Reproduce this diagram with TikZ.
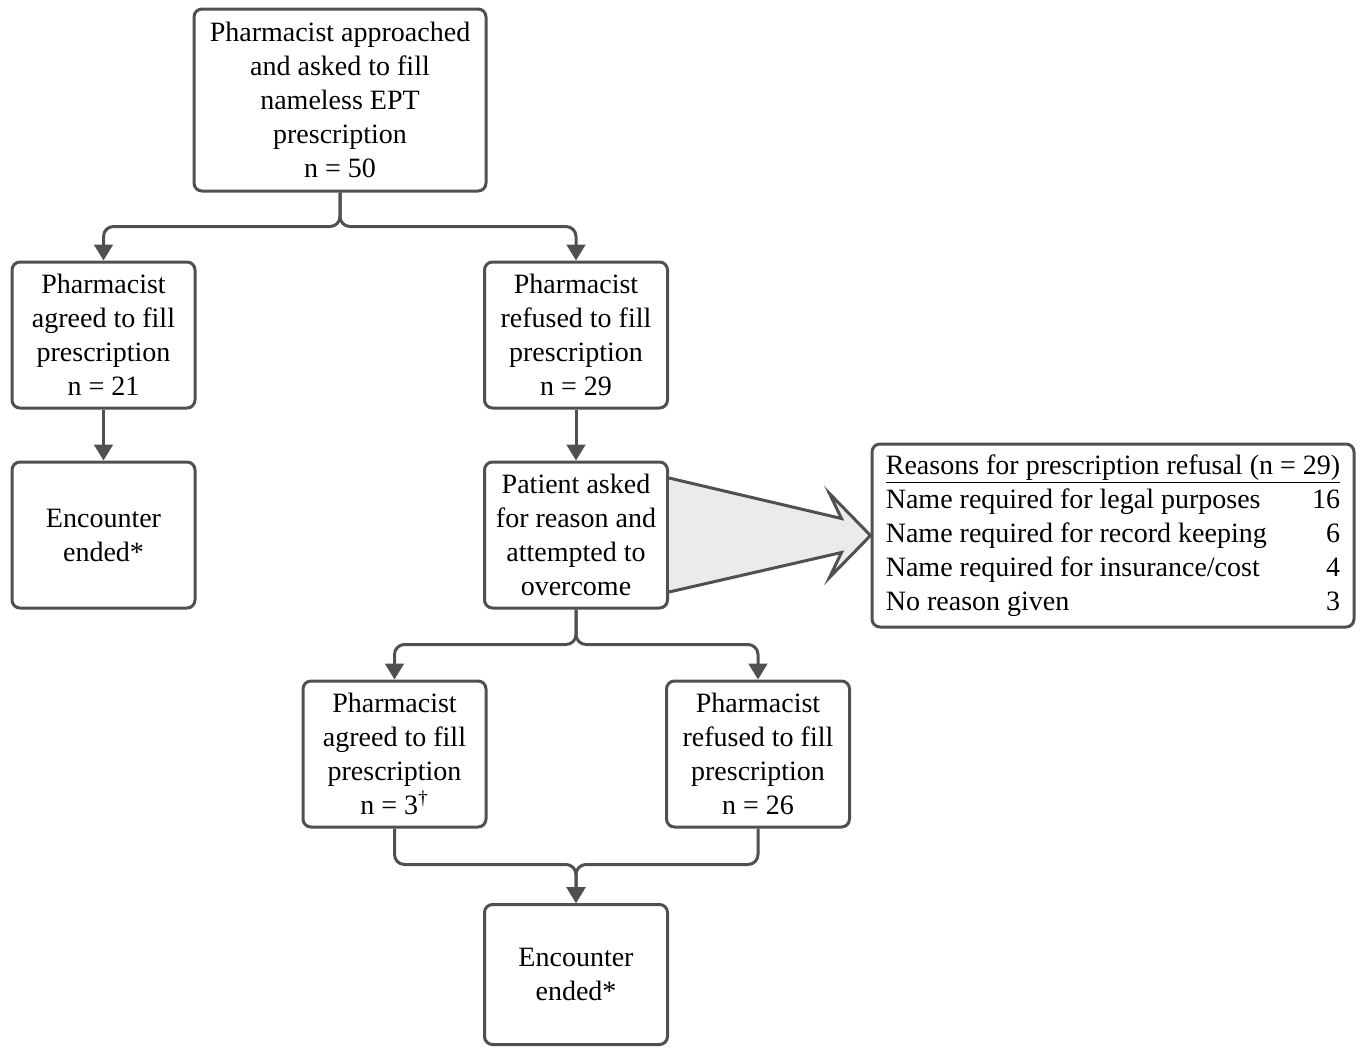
\documentclass[tikz,border=0pt]{standalone}
\usepackage{fontspec}
\setmainfont{Liberation Serif}
\usetikzlibrary{arrows.meta}
\usetikzlibrary{calc}
\definecolor{linegray}{HTML}{505050}
\definecolor{fillgray}{HTML}{EBEBEB}
\tikzset {
  flow node/.style = {
    draw = linegray,
    line width = 2.25pt,
    rounded corners = 6pt,
    align = center,
    inner sep = 0pt,
    font = \fontsize{21}{25.5}\selectfont
  },
  % ordinary stage of the encounter
  stage/.style = {
    flow node,
    minimum width = 137.25pt,
    minimum height = 109.5pt
  },
  % first box
  start/.style = {
    flow node,
    minimum width = 219pt,
    minimum height = 136.5pt
  },
  % box with the list of reasons
  reasons/.style = {
    flow node,
    align = left,
    minimum width = 361.5pt,
    minimum height = 137.25pt
  }
}
\tikzset {
  flow path/.style = {
    draw = linegray,
    line width = 2.25pt,
    rounded corners = 7.5pt
  },
  % path style with an arrow at the end
  conn/.style = {
    flow path,
    -{Triangle[width = 14pt, length = 12pt]}
  },
  % big arrow towards the reasons
  callout/.style = {
    draw = linegray,
    fill = fillgray,
    line width = 2.25pt,
    line join = miter
  }
}

\begin{document}
\begin{tikzpicture}[x = 0.75pt, y = -0.75pt]
    \useasboundingbox (0,0) rectangle (1360,1047);

    \node[start] (top) at (340,100) {Pharmacist approached\\and asked to fill\\nameless EPT\\prescription\\n = 50};
    \node[stage] (agree-1) at (103.5,335) {Pharmacist\\agreed to fill\\prescription\\n = 21};
    \node[stage] (refuse-1) at (576,335) {Pharmacist\\refused to fill\\prescription\\n = 29};
    \node[stage] (ended-1) at (103.5,535) {Encounter\\ended*};
    \node[stage] (patient) at (576,535) {Patient asked\\for reason and\\attempted to\\overcome};
    \node[reasons] (reasons) at (1113,535.5) {%
      \begin{tabular}{@{}l@{\hspace{12pt}}r@{}}
        \multicolumn{2}{@{}l@{}}{\underline{Reasons for prescription refusal (n = 29)}}\\
        Name required for legal purposes & 16\\
        Name required for record keeping & 6\\
        Name required for insurance/cost & 4\\
        No reason given & 3
      \end{tabular}};
    \node[stage] (agree-2) at (394.5,754) {Pharmacist\\agreed to fill\\prescription\\n = 3\textsuperscript{†}};
    \node[stage] (refuse-2) at (758,754) {Pharmacist\\refused to fill\\prescription\\n = 26};
    \node[stage, minimum height = 105pt] (ended-2) at (576,974.5) {Encounter\\ended*};

    \draw[conn] (top.south) -- ++(0,34) -| (agree-1.north);
    \draw[conn] (top.south) -- ++(0,34) -| (refuse-1.north);
    \draw[conn] (agree-1) -- (ended-1);
    \draw[conn] (refuse-1) -- (patient);

    \draw[callout] ($(patient.east)+(0,-57)$) -- ($(reasons.west)+(-29,-17)$)
      -- ($(reasons.west)+(-41,-42)$) -- (reasons.west)
      -- ($(reasons.west)+(-41,42)$) -- ($(reasons.west)+(-29,17)$)
      -- ($(patient.east)+(0,57)$);

    \draw[conn] (patient.south) -- ++(0,35) -| (agree-2.north);
    \draw[conn] (patient.south) -- ++(0,35) -| (refuse-2.north);

    \draw[conn] (agree-2.south)  -- ++(0,36) -| (ended-2.north);
    \draw[conn] (refuse-2.south) -- ++(0,36) -| (ended-2.north);

  \end{tikzpicture}
\end{document}
